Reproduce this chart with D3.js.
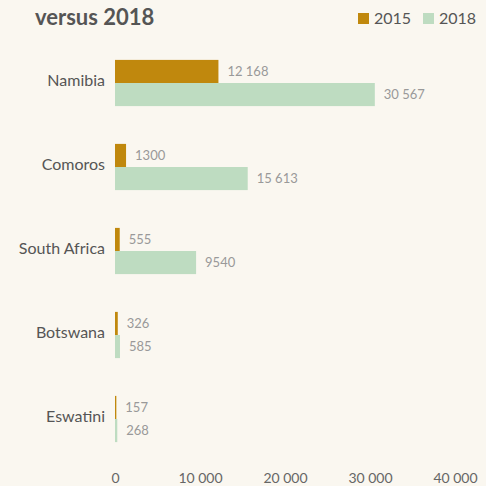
<!DOCTYPE html>
<html>
<head>
<meta charset="utf-8">
<script src="https://cdn.jsdelivr.net/npm/d3@7"></script>
<style>
  body { margin: 0; background: #faf7f0; }
  svg { display: block; font-family: Lato, "Open Sans", sans-serif; }
</style>
</head>
<body>
<div id="chart"></div>
<script>
const countries = ['Namibia', 'Comoros', 'South Africa', 'Botswana', 'Eswatini'];
const years = ['2015', '2018'];
const values2015 = [12168, 1300, 555, 326, 157];
const values2018 = [30567, 15613, 9540, 585, 268];
const xTicks = [0, 10000, 20000, 30000, 40000];

const width = 486, height = 486;
const svg = d3.select('#chart').append('svg')
  .attr('width', width)
  .attr('height', height);

svg.append('rect').attr('width', width).attr('height', height).attr('fill', '#faf7f0');

const color = d3.scaleOrdinal().domain(years).range(['#c0880d', '#bedcc1']);

const x = d3.scaleLinear().domain([0, 40000]).range([115, 455]);
const y = d3.scaleBand().domain(countries).range([41, 461]).paddingInner(0.45).paddingOuter(0.225);
const ySub = d3.scaleBand().domain(years).range([0, y.bandwidth()]);

// numbers: space grouping only from 5 digits up
const fmt = v => v >= 10000 ? d3.format(',')(v).replace(/,/g, ' ') : String(v);

const rows = countries.map((c, i) => ({country: c, '2015': values2015[i], '2018': values2018[i]}));

// title + legend
svg.append('text')
  .attr('x', 35).attr('y', 25)
  .attr('fill', '#555')
  .attr('font-size', 22).attr('font-weight', 'bold')
  .text('versus 2018');

const legend = svg.append('g');
[[358, 374], [423, 439]].forEach(([sx, tx], i) => {
  legend.append('rect')
    .attr('x', sx).attr('y', 13).attr('width', 11).attr('height', 11)
    .attr('fill', color(years[i]));
  legend.append('text')
    .attr('x', tx).attr('y', 24)
    .attr('fill', '#555').attr('font-size', 16)
    .text(years[i]);
});

// category labels
svg.append('g').selectAll('text')
  .data(countries)
  .join('text')
    .attr('x', 105)
    .attr('y', d => y(d) + y.bandwidth() / 2 - 3)
    .attr('dy', '0.35em')
    .attr('text-anchor', 'end')
    .attr('fill', '#555').attr('font-size', 16)
    .text(d => d);

// bars
const group = svg.append('g').selectAll('g')
  .data(rows)
  .join('g')
    .attr('transform', d => `translate(0,${y(d.country)})`);

group.selectAll('rect')
  .data(d => years.map(k => ({key: k, value: d[k]})))
  .join('rect')
    .attr('x', x(0))
    .attr('y', d => ySub(d.key))
    .attr('width', d => x(d.value) - x(0))
    .attr('height', ySub.bandwidth())
    .attr('fill', d => color(d.key));

group.selectAll('text')
  .data(d => years.map(k => ({key: k, value: d[k]})))
  .join('text')
    .attr('x', d => x(d.value) + 9)
    .attr('y', d => ySub(d.key) + ySub.bandwidth() / 2)
    .attr('dy', '0.35em')
    .attr('fill', '#999').attr('font-size', 13)
    .text(d => fmt(d.value));

// x axis
const xAxis = svg.append('g')
  .attr('transform', 'translate(0,470)')
  .call(d3.axisBottom(x).tickValues(xTicks).tickFormat(fmt).tickSize(0));
xAxis.select('.domain').remove();
xAxis.selectAll('text')
  .attr('fill', '#666').attr('font-size', 14)
  .attr('font-family', 'Lato, "Open Sans", sans-serif');
</script>
</body>
</html>
